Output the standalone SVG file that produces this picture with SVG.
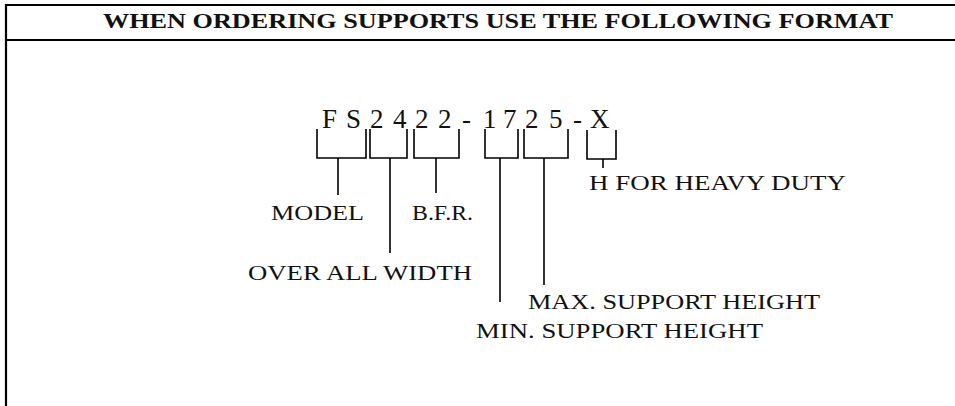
<svg xmlns="http://www.w3.org/2000/svg" width="955" height="406" viewBox="0 0 955 406">
<style>
.frame{stroke:#000;stroke-width:2.2;fill:none}
.br{stroke:#000;stroke-width:1.6;fill:none}
.t{font-family:"Liberation Serif","Times New Roman",serif;fill:#111}
.title{font-size:22px;font-weight:bold}
.code{font-size:27px}
.lbl{font-size:22px}
</style>
<rect width="955" height="406" fill="#fff"/>
<g id="frame">
<path class="frame" d="M6 406 V5 H955 M6 40 H955"/>
</g>
<text class="t title" x="103" y="28" textLength="790" lengthAdjust="spacingAndGlyphs">WHEN ORDERING SUPPORTS USE THE FOLLOWING FORMAT</text>
<g id="code">
<text class="t code" y="128"><tspan x="322">F</tspan><tspan x="346">S</tspan><tspan x="370">2</tspan><tspan x="393">4</tspan><tspan x="415">2</tspan><tspan x="438">2</tspan><tspan x="462">-</tspan><tspan x="483">1</tspan><tspan x="503">7</tspan><tspan x="525">2</tspan><tspan x="549">5</tspan><tspan x="573">-</tspan><tspan x="590">X</tspan></text>
</g>
<g id="connectors">
<path class="br" d="M317 129 V158 H366 V129"/>
<path class="br" d="M370 129 V158 H407 V129"/>
<path class="br" d="M414 129 V158 H459 V129"/>
<path class="br" d="M485 129 V158 H518 V129"/>
<path class="br" d="M524 129 V158 H568 V129"/>
<path class="br" d="M587 130 V159 H616 V130"/>
<path class="br" d="M338 158 V195"/>
<path class="br" d="M390 158 V253"/>
<path class="br" d="M436 158 V193"/>
<path class="br" d="M500 158 V302"/>
<path class="br" d="M544 158 V285"/>
<path class="br" d="M603 159 V168"/>
</g>
<g id="model"><text class="t lbl" x="271" y="220" textLength="93" lengthAdjust="spacingAndGlyphs">MODEL</text></g>
<g id="bfr"><text class="t lbl" x="412" y="220" textLength="61" lengthAdjust="spacingAndGlyphs">B.F.R.</text></g>
<g id="width"><text class="t lbl" x="248" y="280" textLength="224" lengthAdjust="spacingAndGlyphs">OVER ALL WIDTH</text></g>
<g id="heavy"><text class="t lbl" x="589" y="190" textLength="257" lengthAdjust="spacingAndGlyphs">H FOR HEAVY DUTY</text></g>
<g id="max"><text class="t lbl" x="528" y="309" textLength="292" lengthAdjust="spacingAndGlyphs">MAX. SUPPORT HEIGHT</text></g>
<g id="min"><text class="t lbl" x="476" y="338" textLength="287" lengthAdjust="spacingAndGlyphs">MIN. SUPPORT HEIGHT</text></g>
</svg>
